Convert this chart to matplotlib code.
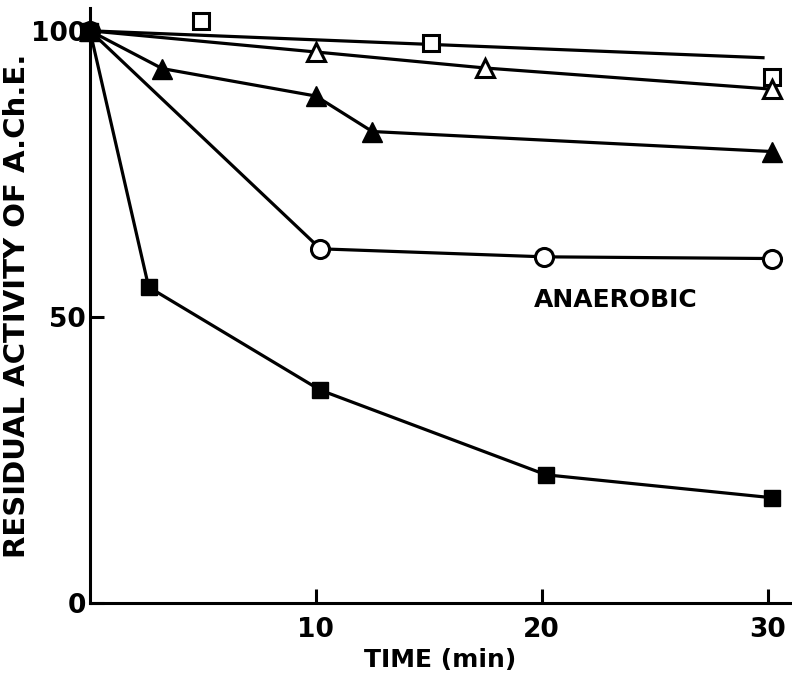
import matplotlib.pyplot as plt

# Open squares (measured points) and their fitted straight line
sq_open_t = [0, 4.9, 15.1, 30.2]
sq_open_v = [100, 101.7, 97.9, 92.0]
sq_fit_t = [0, 29.8]
sq_fit_v = [100, 95.3]

# Open triangles
tri_open_t = [0, 10, 17.5, 30.2]
tri_open_v = [100, 96.3, 93.5, 89.8]

# Filled triangles
tri_fill_t = [0, 3.2, 10, 12.5, 30.2]
tri_fill_v = [100, 93.4, 88.6, 82.4, 78.9]

# Open circles (anaerobic)
circ_t = [0, 10.2, 20.1, 30.2]
circ_v = [100, 61.9, 60.5, 60.2]

# Filled squares
sq_fill_t = [0, 2.6, 10.2, 20.2, 30.2]
sq_fill_v = [100, 55.2, 37.2, 22.4, 18.4]

plt.rcParams['font.family'] = ['DejaVu Sans']
plt.rcParams['font.weight'] = 'bold'

fig = plt.figure(figsize=(7.92, 6.77), dpi=100)
ax = fig.add_axes([0.1136, 0.1093, 0.884, 0.879])

lw = 2.3
ax.plot(sq_fit_t, sq_fit_v, color='black', lw=lw)
ax.plot(sq_open_t[1:], sq_open_v[1:], ls='none', marker='s', ms=11,
        mfc='white', mec='black', mew=2.2, clip_on=False)
ax.plot(tri_open_t, tri_open_v, color='black', lw=lw, marker='^', ms=13,
        mfc='white', mec='black', mew=2.2, clip_on=False)
ax.plot(circ_t, circ_v, color='black', lw=lw, marker='o', ms=13,
        mfc='white', mec='black', mew=2.2, clip_on=False)
ax.plot(tri_fill_t, tri_fill_v, color='black', lw=lw, marker='^', ms=14,
        mfc='black', mec='black', clip_on=False)
ax.plot(sq_fill_t, sq_fill_v, color='black', lw=lw, marker='s', ms=12,
        mfc='black', mec='black', clip_on=False)

ax.set_xlim(0, 31)
ax.set_ylim(0, 104)
ax.spines['top'].set_visible(False)
ax.spines['right'].set_visible(False)
ax.spines['left'].set_linewidth(2.2)
ax.spines['bottom'].set_linewidth(2.2)

ax.set_xticks([10, 20, 30])
ax.set_yticks([0, 50, 100])
ax.tick_params(direction='in', length=10, width=2.2, labelsize=19, pad=10)
ax.tick_params(axis='y', pad=3)

ax.set_xlabel('TIME (min)', fontsize=18, fontweight='bold', labelpad=4)
ax.set_ylabel('RESIDUAL ACTIVITY OF A.Ch.E.', fontsize=21, fontweight='bold', labelpad=0)

ax.text(23.3, 53, 'ANAEROBIC', fontsize=18, fontweight='bold', ha='center', va='center')

plt.savefig('out.png', dpi=100)
